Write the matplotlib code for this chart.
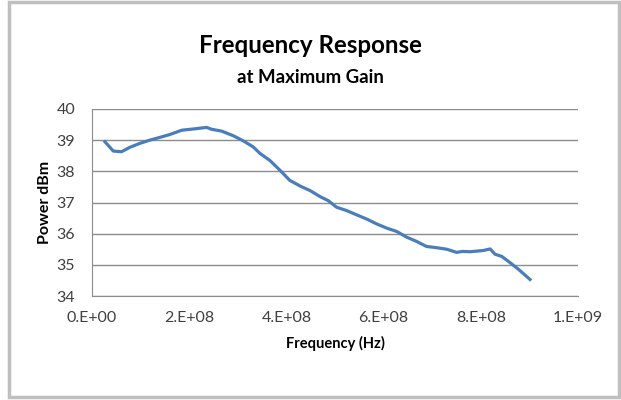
import matplotlib
matplotlib.use("Agg")
import matplotlib.pyplot as plt
from matplotlib.patches import Rectangle

plt.rcParams['font.family'] = ['Lato', 'DejaVu Sans']

# frequency (Hz) and power (dBm)
freq = [2.67e7, 4.4e7, 6.1e7, 7.8e7, 9.9e7, 1.19e8, 1.40e8, 1.60e8, 1.85e8, 2.15e8,
        2.36e8, 2.46e8, 2.67e8, 2.91e8, 3.11e8, 3.32e8, 3.46e8, 3.66e8, 3.87e8, 4.07e8,
        4.28e8, 4.49e8, 4.69e8, 4.86e8, 5.03e8, 5.24e8, 5.45e8, 5.65e8, 5.86e8, 6.06e8,
        6.27e8, 6.47e8, 6.68e8, 6.88e8, 7.09e8, 7.30e8, 7.50e8, 7.62e8, 7.78e8, 8.05e8,
        8.19e8, 8.29e8, 8.43e8, 8.60e8, 8.77e8, 9.01e8]
power = [38.95, 38.65, 38.63, 38.77, 38.90, 39.00, 39.09, 39.18, 39.32, 39.37,
         39.41, 39.35, 39.29, 39.14, 38.98, 38.78, 38.57, 38.35, 38.03, 37.71,
         37.53, 37.38, 37.19, 37.06, 36.85, 36.74, 36.60, 36.47, 36.31, 36.18,
         36.07, 35.89, 35.75, 35.59, 35.55, 35.50, 35.40, 35.43, 35.42, 35.46,
         35.51, 35.34, 35.27, 35.07, 34.86, 34.53]

xticks = [0, 2e8, 4e8, 6e8, 8e8, 1e9]
xtick_labels = ["0.E+00", "2.E+08", "4.E+08", "6.E+08", "8.E+08", "1.E+09"]
yticks = [34, 35, 36, 37, 38, 39, 40]

fig = plt.figure(figsize=(6.21, 4.0), dpi=100)
ax = fig.add_axes([0.148, 0.26, 0.783, 0.4675])

ax.plot(freq, power, color='#4a7ebb', lw=2.3)

ax.set_xlim(0, 1e9)
ax.set_ylim(34, 40)
ax.set_xticks(xticks)
ax.set_xticklabels(xtick_labels)
ax.set_yticks(yticks)
ax.tick_params(length=0, labelsize=11.5, labelcolor='#404040')
ax.tick_params(axis='x', pad=11)
ax.tick_params(axis='y', pad=12)
ax.grid(axis='y', color='#8c8c8c', lw=1)
ax.set_axisbelow(True)
for s in ['top', 'right']:
    ax.spines[s].set_visible(False)
for s in ['left', 'bottom']:
    ax.spines[s].set_color('#8c8c8c')

ax.set_xlabel("Frequency (Hz)", fontsize=10.5, fontweight='bold', labelpad=8)
ax.set_ylabel("Power dBm", fontsize=11.5, fontweight='bold', labelpad=3)

fig.text(0.5, 0.886, "Frequency Response", ha='center', va='center',
         fontsize=17.4, fontweight='bold')
fig.text(0.5, 0.806, "at Maximum Gain", ha='center', va='center',
         fontsize=13.4, fontweight='bold')

fig.patches.append(Rectangle((9 / 621, 0.0075), 610 / 621, 0.9875,
                             transform=fig.transFigure, fill=False,
                             edgecolor='#bfbfbf', lw=2.5))

fig.savefig("out.png", dpi=100)
